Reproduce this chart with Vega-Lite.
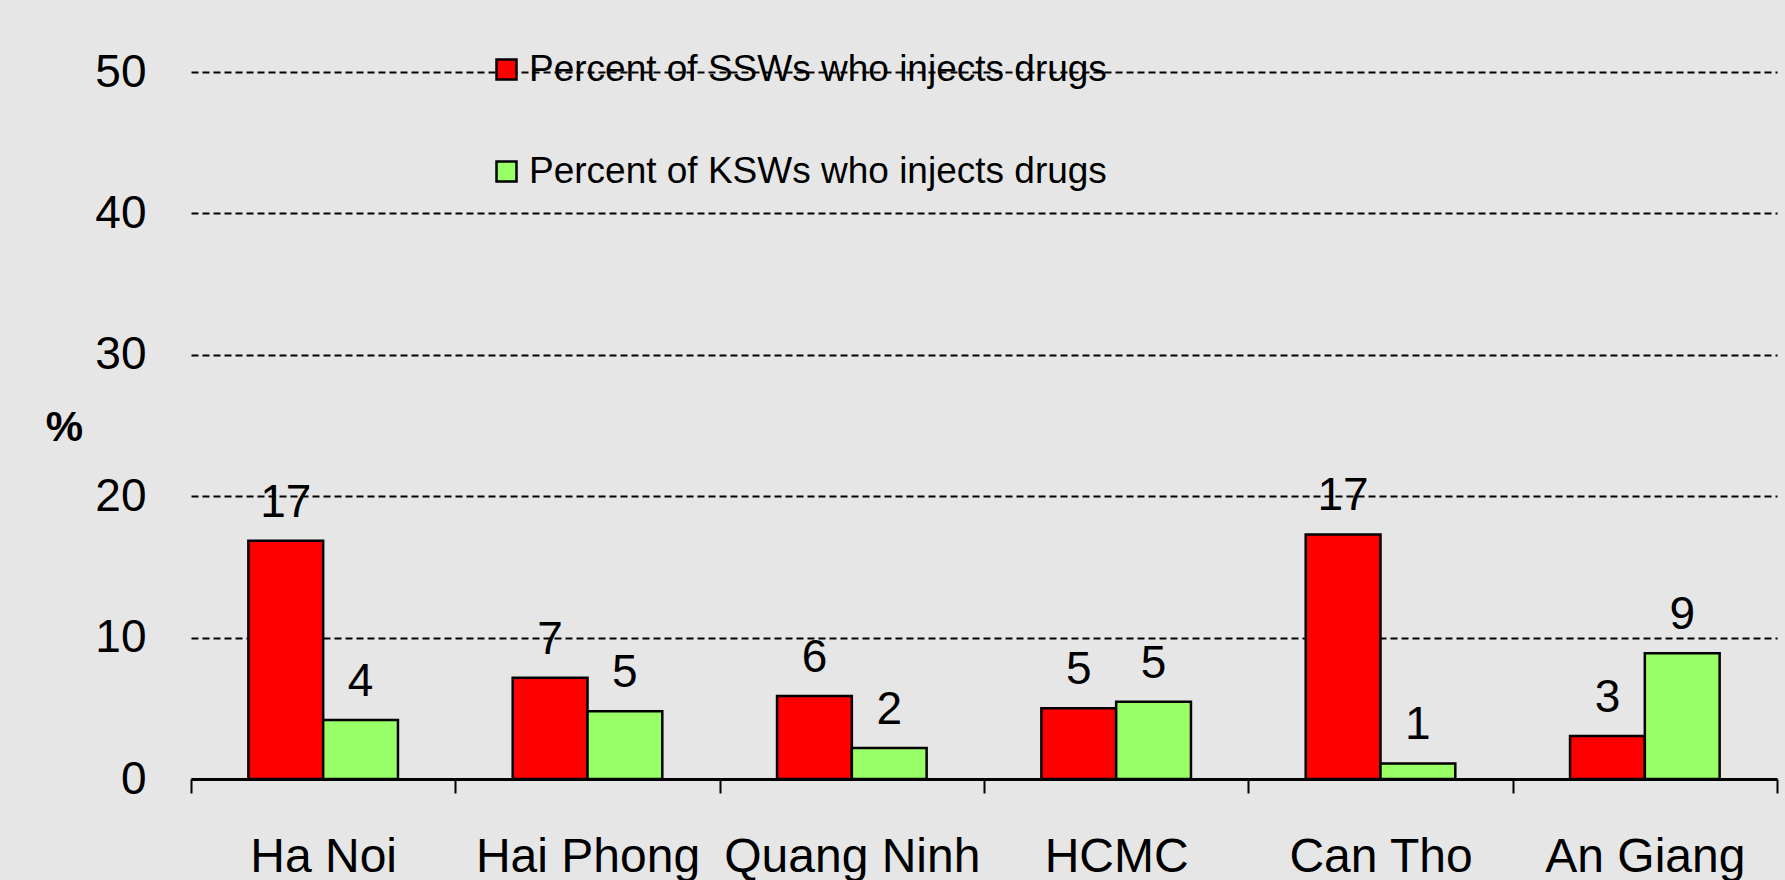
{
  "$schema": "https://vega.github.io/schema/vega-lite/v6.json",
  "width": 1586,
  "height": 707,
  "autosize": {"type": "none"},
  "padding": {"left": 191, "top": 72, "right": 8, "bottom": 101},
  "background": "#e6e6e6",
  "config": {
    "view": {"stroke": null},
    "font": "Liberation Sans"
  },
  "data": {
    "values": [
      {"city": "Ha Noi", "group": "Percent of SSWs  who injects drugs", "value": 16.85},
      {"city": "Ha Noi", "group": "Percent of KSWs  who injects drugs", "value": 4.17},
      {"city": "Hai Phong", "group": "Percent of SSWs  who injects drugs", "value": 7.16},
      {"city": "Hai Phong", "group": "Percent of KSWs  who injects drugs", "value": 4.8},
      {"city": "Quang Ninh", "group": "Percent of SSWs  who injects drugs", "value": 5.87},
      {"city": "Quang Ninh", "group": "Percent of KSWs  who injects drugs", "value": 2.2},
      {"city": "HCMC", "group": "Percent of SSWs  who injects drugs", "value": 5.0},
      {"city": "HCMC", "group": "Percent of KSWs  who injects drugs", "value": 5.46},
      {"city": "Can Tho", "group": "Percent of SSWs  who injects drugs", "value": 17.3},
      {"city": "Can Tho", "group": "Percent of KSWs  who injects drugs", "value": 1.1},
      {"city": "An Giang", "group": "Percent of SSWs  who injects drugs", "value": 3.04},
      {"city": "An Giang", "group": "Percent of KSWs  who injects drugs", "value": 8.9}
    ]
  },
  "encoding": {
    "x": {
      "field": "city",
      "type": "nominal",
      "sort": null,
      "scale": {"paddingInner": 0, "paddingOuter": 0},
      "axis": {
        "title": null,
        "labelAngle": 0,
        "labelFontSize": 48,
        "labelColor": "#000000",
        "labelBaseline": "top",
        "labelPadding": 40,
        "labelLimit": 400,
        "tickBand": "extent",
        "tickSize": 14,
        "tickColor": "#000000",
        "tickWidth": 2,
        "domainColor": "#000000",
        "domainWidth": 3,
        "grid": false
      }
    },
    "xOffset": {
      "field": "group",
      "type": "nominal",
      "sort": ["Percent of SSWs  who injects drugs", "Percent of KSWs  who injects drugs"],
      "scale": {"paddingInner": 0, "paddingOuter": 0.767}
    },
    "y": {
      "field": "value",
      "type": "quantitative",
      "scale": {"domain": [0, 50], "nice": false},
      "axis": {
        "values": [0, 10, 20, 30, 40, 50],
        "title": "%",
        "titleAngle": 0,
        "titleFontSize": 42,
        "titleFontWeight": "bold",
        "titleColor": "#000000",
        "titleX": -127,
        "titleY": 355,
        "titleAlign": "center",
        "titleBaseline": "middle",
        "labelFontSize": 46,
        "labelColor": "#000000",
        "labelPadding": 45,
        "domain": false,
        "ticks": false,
        "grid": true,
        "gridColor": "#000000",
        "gridWidth": 2,
        "gridDash": [7, 4]
      }
    }
  },
  "layer": [
    {
      "mark": {"type": "bar", "stroke": "#000000", "strokeWidth": 2.5},
      "encoding": {
        "color": {
          "field": "group",
          "type": "nominal",
          "sort": ["Percent of SSWs  who injects drugs", "Percent of KSWs  who injects drugs"],
          "scale": {
            "domain": ["Percent of SSWs  who injects drugs", "Percent of KSWs  who injects drugs"],
            "range": ["#ff0000", "#99ff66"]
          },
          "legend": {
            "title": null,
            "orient": "none",
            "legendX": 297,
            "legendY": -21,
            "direction": "vertical",
            "padding": 0,
            "symbolType": "square",
            "symbolSize": 400,
            "symbolStrokeColor": "#000000",
            "symbolStrokeWidth": 2.5,
            "symbolOpacity": 1,
            "labelFontSize": 37,
            "labelColor": "#000000",
            "labelOffset": 4,
            "labelLimit": 900,
            "rowPadding": 64
          }
        }
      }
    },
    {
      "mark": {"type": "text", "baseline": "alphabetic", "dy": -24, "fontSize": 46, "color": "#000000"},
      "encoding": {
        "text": {"field": "value", "type": "quantitative", "format": ".0f"}
      }
    }
  ]
}
